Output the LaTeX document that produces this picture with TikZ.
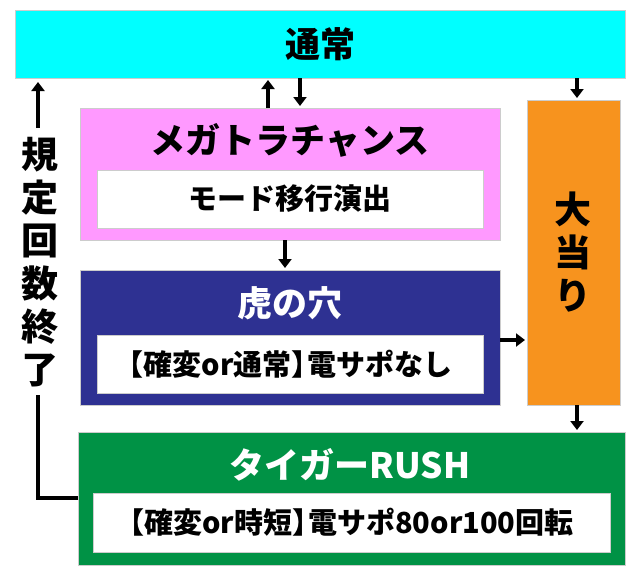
\documentclass[tikz,border=0pt]{standalone}
\usepackage{fontspec}
\setmainfont{Noto Sans CJK JP}
\usetikzlibrary{arrows.meta,positioning}
\definecolor{tsujo}{RGB}{0,255,255}
\definecolor{mega}{RGB}{255,153,255}
\definecolor{tora}{RGB}{46,49,146}
\definecolor{atari}{RGB}{247,147,30}
\definecolor{tiger}{RGB}{0,146,69}
\tikzset{
  panel/.style={draw=gray!40, line width=1pt},
  inbox/.style={fill=white, draw=gray!40},
  flow/.style={line width=3.5pt, -{Triangle[length=9pt,width=13pt]}},
  big/.style={font=\bfseries\fontsize{35}{36}\selectfont},
  tall/.style={font=\bfseries\fontsize{37}{43}\selectfont},
  small/.style={font=\bfseries\fontsize{29}{30}\selectfont},
}
\begin{document}
\begin{tikzpicture}[x=1pt,y=-1pt]
  \useasboundingbox[fill=white] (0,0) rectangle (640,570);
  % boxes
  \draw[panel, fill=tsujo] (15,10) rectangle (625,78);
  \node[big] (tsujo) at (320,44) {通常};
  \draw[panel, fill=mega] (80,108) rectangle (500,240);
  \node[big] (mega) at (290,140) {メガトラチャンス};
  \draw[inbox] (97,170) rectangle (483,228);
  \node[small] (mode) at (290,199) {モード移行演出};
  \draw[panel, fill=tora] (80,270) rectangle (500,405);
  \node[big, white] (tora) at (290,303) {虎の穴};
  \draw[inbox] (97,335) rectangle (483,393);
  \node[small, inner sep=0pt] (denA) at (290,364) {\kern-0.45em【確変or通常】\kern-0.45em 電サポなし};
  \draw[panel, fill=atari] (527,100) rectangle (620,405);
  \node[tall, align=center] (atari) at (573,252) {大\\当\\り};
  \draw[panel, fill=tiger] (78,432) rectangle (625,565);
  \node[big, white] (rush) at (350,465) {タイガーRUSH};
  \draw[inbox] (93,493) rectangle (610,552);
  \node[small, inner sep=0pt] (denB) at (351,522) {\kern-0.45em【確変or時短】\kern-0.45em 電サポ80or100回転};
  \node[tall, align=center] (kitei) at (40,262) {規\\定\\回\\数\\終\\了};
  % arrows
  \coordinate (c1) at (268,108); \coordinate (c2) at (268,80);
  \draw[flow] (c1) -- (c2);
  \coordinate (c3) at (300,78); \coordinate (c4) at (300,106);
  \draw[flow] (c3) -- (c4);
  \coordinate (c5) at (577,78); \coordinate (c6) at (577,98);
  \draw[flow] (c5) -- (c6);
  \coordinate (c7) at (285,240); \coordinate (c8) at (285,268);
  \draw[flow] (c7) -- (c8);
  \coordinate (c9) at (500,340); \coordinate (c10) at (525,340);
  \draw[flow] (c9) -- (c10);
  \coordinate (c11) at (577,405); \coordinate (c12) at (577,430);
  \draw[flow] (c11) -- (c12);
  \coordinate (c13) at (78,498); \coordinate (c14) at (38,82);
  \draw[line width=3.5pt] (c13) -- (38,498) -- (38,395);
  \draw[flow] (38,128) -- (c14);
\end{tikzpicture}
\end{document}
